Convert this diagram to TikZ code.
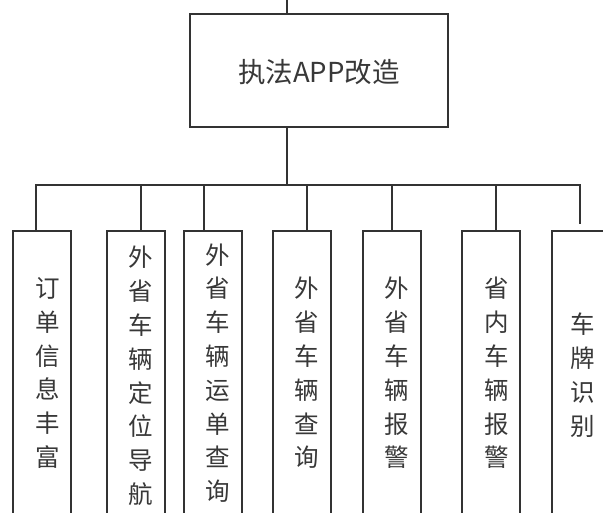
\documentclass[tikz,border=0pt]{standalone}
\usepackage{fontspec}
\setmainfont{Noto Sans CJK SC}
\definecolor{ln}{HTML}{333333}
\definecolor{tx}{HTML}{383838}
\tikzset{
  line/.style={draw=ln, line width=2.2pt},
  leaf/.style={line, rectangle, minimum width=58pt, minimum height=290pt, anchor=north west, inner sep=0pt},
  vtext/.style={text=tx, align=center, font=\fontsize{24.5}{33.8}\selectfont, inner sep=0pt},
  headbox/.style={line, rectangle, minimum width=258pt, minimum height=113pt, anchor=north west, inner sep=0pt}
}
\begin{document}
\begin{tikzpicture}[x=1pt,y=-1pt]
\useasboundingbox (0,0) rectangle (603,512);
\clip (0,0) rectangle (603,512);
\fill[white] (0,0) rectangle (603,512);
% head
\node[headbox] (top) at (189,13) {};
\node[text=tx, font=\fontsize{27.5}{30}\selectfont, inner sep=0pt] (toptext) at (319,72) {执法APP改造};
\coordinate (tick) at (287,0);
\draw[line] (tick) -- (tick |- top.north);
% leaves
\node[leaf] (b1) at (12,230) {};
\node[leaf] (b2) at (106,230) {};
\node[leaf] (b3) at (183,230) {};
\node[leaf] (b4) at (272,230) {};
\node[leaf] (b5) at (362,230) {};
\node[leaf] (b6) at (461,230) {};
\node[leaf] (b7) at (551,230) {};
% texts
\node[vtext] (t1) at (48,373) {订\\单\\信\\息\\丰\\富};
\node[vtext] (t2) at (141,376) {外\\省\\车\\辆\\定\\位\\导\\航};
\node[vtext] (t3) at (218,373) {外\\省\\车\\辆\\运\\单\\查\\询};
\node[vtext] (t4) at (307,373) {外\\省\\车\\辆\\查\\询};
\node[vtext] (t5) at (397,373) {外\\省\\车\\辆\\报\\警};
\node[vtext] (t6) at (497,373) {省\\内\\车\\辆\\报\\警};
\node[vtext] (t7) at (583,375) {车\\牌\\识\\别};
% bus
\coordinate (hub) at (287,185);
\coordinate (s1) at (36,185);
\coordinate (s2) at (141,185);
\coordinate (s3) at (204,185);
\coordinate (s4) at (307,185);
\coordinate (s5) at (392,185);
\coordinate (s6) at (496,185);
\coordinate (s7) at (580,185);
\coordinate (e7) at (580,224);
\draw[line] (top.south -| hub) -- (hub);
\draw[line] (s1 |- b1.north) -- (s1) -- (s7) -- (e7);
\draw[line] (s2) -- (s2 |- b2.north);
\draw[line] (s3) -- (s3 |- b3.north);
\draw[line] (s4) -- (s4 |- b4.north);
\draw[line] (s5) -- (s5 |- b5.north);
\draw[line] (s6) -- (s6 |- b6.north);
\end{tikzpicture}
\end{document}
